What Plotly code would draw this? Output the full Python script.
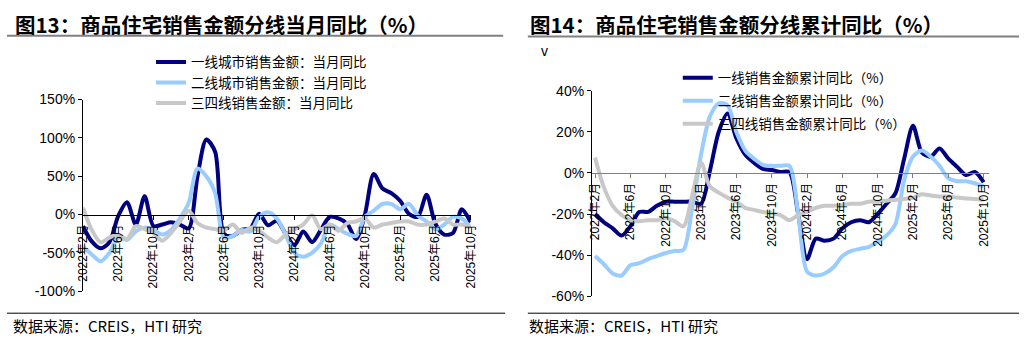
import plotly.graph_objects as go

# ---- data -------------------------------------------------------------
months = list(range(45))  # 2022-02 .. 2025-10
tick_pos = [0, 4, 8, 12, 16, 20, 24, 28, 32, 36, 40, 44]
tick_text = ["2022年2月", "2022年6月", "2022年10月", "2023年2月", "2023年6月", "2023年10月",
             "2024年2月", "2024年6月", "2024年10月", "2025年2月", "2025年6月", "2025年10月"]

# monthly YoY (%)
tier1_month = [-15, -35, -44, -36, -2, 16, -13, 24, -15, -13, -10, -13, -18, 50, 98, 82,
               -25, -28, -20, -18, 1, -14, -8, -25, -40, -22, -36, -20, -3, -5, -12, -32,
               0, 53, 34, 28, 18, 1, -3, 26, -12, -26, -24, 7, -10]
tier2_month = [-42, -52, -61, -50, -30, -33, -22, -17, -20, -26, -20, -5, 15, 60, 50, 28,
               -30, -28, -20, -22, -3, 3, -5, -26, -50, -55, -50, -38, -13, -19, -25, -28,
               -3, 5, 14, 14, 7, 14, -1, -9, -19, -13, -3, -5, -17]
tier34_month = [9, -20, -36, -30, -26, -32, -15, -19, -24, -34, -24, -9, 5, -11, -17, -19,
                -21, -13, -24, -17, -21, -30, -36, -26, -19, -13, -1, -19, -13, -21, -11, -9,
                -5, -17, -13, -11, -9, -9, -13, -13, -9, -5, -13, -13, -17]

# cumulative YoY (%)
tier1_cum = [-20, -24, -27, -30.5, -26, -19, -19, -16, -14, -14, -14, -14, -15, 1, 20, 29,
             17, 9, 5, 2, 1.5, 0.5, 0.5, -20, -42, -32, -33, -32, -27, -24, -23, -24,
             -20, -15, -10, 7, 23, 10, 8, 12, 7, 3, -1, 0.5, -4.5]
tier2_cum = [-40.5, -44.5, -49, -50, -45, -44, -42, -40.5, -39, -38, -37.5, -17, 9, 27.5, 34, 33,
             20, 11, 7, 4, 3.5, 3.5, 3.5, -20, -48, -50, -49, -46, -40.5, -38, -37, -36,
             -33.5, -30.5, -25, -3.5, 8, 11, 8, 3.5, -2.5, -4, -4, -5, -6.5]
tier34_cum = [7.5, -7, -16, -20.5, -23, -23.5, -23, -23, -22, -23.5, -26, -11, 5, -6.5, -9.6, -12,
              -14, -17, -18, -19, -19.7, -20.5, -23, -20.5, -19, -17, -16, -16, -15.5, -15, -15, -14,
              -14, -13.5, -13, -12.7, -12, -10.4, -11, -11.5, -11.5, -12, -12.4, -12.7, -13]

left_names = ["一线城市销售金额：当月同比", "二线城市销售金额：当月同比", "三四线销售金额：当月同比"]
right_names = ["一线销售金额累计同比（%）", "二线销售金额累计同比（%）", "三四线销售金额累计同比（%）"]

left_yvals = [-100, -50, 0, 50, 100, 150]
left_ytext = ["-100%", "-50%", "0%", "50%", "100%", "150%"]
right_yvals = [-60, -40, -20, 0, 20, 40]
right_ytext = ["-60%", "-40%", "-20%", "0%", "20%", "40%"]

colors = ["#000080", "#99CCFF", "#C8C8C8"]

# ---- geometry helpers (pixels -> paper) -------------------------------
W, H = 1032, 346


def px(x):
    return x / W


def py(y):
    return 1 - y / H


LATIN = "Arial, 'Liberation Sans', 'Noto Sans CJK SC', sans-serif"
CJK = "'Noto Sans CJK SC', 'Noto Sans', sans-serif"

fig = go.Figure()

for vals, name, c in zip([tier1_month, tier2_month, tier34_month], left_names, colors):
    fig.add_trace(go.Scatter(x=months, y=vals, name=name, mode="lines",
                             line=dict(color=c, width=4, shape="spline", smoothing=0.8),
                             xaxis="x", yaxis="y", legend="legend", hoverinfo="skip"))

for k, (vals, name, c) in enumerate(zip([tier1_cum, tier2_cum, tier34_cum], right_names, colors)):
    fig.add_trace(go.Scatter(x=months, y=vals, name=name, mode="lines",
                             line=dict(color=c, width=4, shape="spline", smoothing=0.8),
                             xaxis="x2", yaxis="y2", legend="legend2", legendgroup=f"g{k}",
                             hoverinfo="skip"))

# y-domains
ly0, ly1 = py(297), py(96)
ry0, ry1 = py(302), py(87)
left_zero = ly0 + (0 - (-100)) / 250 * (ly1 - ly0)
right_zero = ry0 + (0 - (-60)) / 100 * (ry1 - ry0)

xcommon = dict(tickvals=tick_pos, ticktext=tick_text, tickangle=-90, ticks="outside", ticklen=4,
               showgrid=False, zeroline=False, showline=True, anchor="free",
               tickfont=dict(family=LATIN, size=12, color="#000"))
ycommon = dict(ticks="outside", ticklen=4, tickcolor="#000", showgrid=False, zeroline=False,
               showline=True, linecolor="#000", linewidth=1,
               tickfont=dict(family=LATIN, size=14, color="#000"))

fig.update_layout(
    width=W, height=H, margin=dict(l=0, r=0, t=0, b=0),
    paper_bgcolor="white", plot_bgcolor="white", showlegend=True,
    xaxis=dict(domain=[px(77), px(470)], range=[0, 44], position=left_zero,
               linecolor="#000", tickcolor="#000", **xcommon),
    yaxis=dict(domain=[ly0, ly1], range=[-100, 150], anchor="x",
               tickvals=left_yvals, ticktext=left_ytext, **ycommon),
    xaxis2=dict(domain=[px(593), px(995)], range=[-0.35, 44.55], position=right_zero,
                linecolor="#808080", tickcolor="#808080", **xcommon),
    yaxis2=dict(domain=[ry0, ry1], range=[-60, 40], anchor="x2",
                tickvals=right_yvals, ticktext=right_ytext, **ycommon),
    legend=dict(x=px(146), y=py(40.5), xanchor="left", yanchor="top", bgcolor="rgba(0,0,0,0)",
                font=dict(family=CJK, size=13.5, color="#000"), traceorder="normal",
                itemclick=False),
    legend2=dict(x=px(680), y=py(57), xanchor="left", yanchor="top", bgcolor="rgba(0,0,0,0)",
                 font=dict(family=CJK, size=13.5, color="#000"), traceorder="grouped",
                 tracegroupgap=2.5, itemclick=False),
)

# titles, rules and source notes
title_font = dict(family=CJK, size=20.5, color="#000")
fig.add_annotation(x=px(7), y=py(17), xref="paper", yref="paper", xanchor="left", yanchor="middle",
                   align="left", borderpad=0,
                   text="<b>图13：商品住宅销售金额分线当月同比（%）</b>", showarrow=False, font=title_font)
fig.add_annotation(x=px(529), y=py(17), xref="paper", yref="paper", xanchor="left", yanchor="middle",
                   align="left", borderpad=0,
                   text="<b>图14：商品住宅销售金额分线累计同比（%）</b>", showarrow=False, font=title_font)
fig.add_annotation(x=px(540), y=py(45), xref="paper", yref="paper", xanchor="left", yanchor="middle",
                   align="left", borderpad=0,
                   text="v", showarrow=False, font=dict(family=LATIN, size=14, color="#000"))

src_font = dict(family=CJK, size=15, color="#000")
for x0 in (5, 528):
    fig.add_annotation(x=px(x0), y=py(333), xref="paper", yref="paper", xanchor="left",
                       yanchor="middle", align="left", borderpad=0,
                       text="数据来源：CREIS，HTI 研究", showarrow=False, font=src_font)

for (x0, x1, y, col, w) in [(0, 503, 29, "#808080", 2), (528, 1026, 30, "#808080", 2),
                            (0, 505, 320, "#000", 1), (528, 1026, 320, "#000", 1)]:
    fig.add_shape(type="line", xref="paper", yref="paper", x0=px(x0), x1=px(x1), y0=py(y), y1=py(y),
                  line=dict(color=col, width=w))

fig.write_html("out.html")
